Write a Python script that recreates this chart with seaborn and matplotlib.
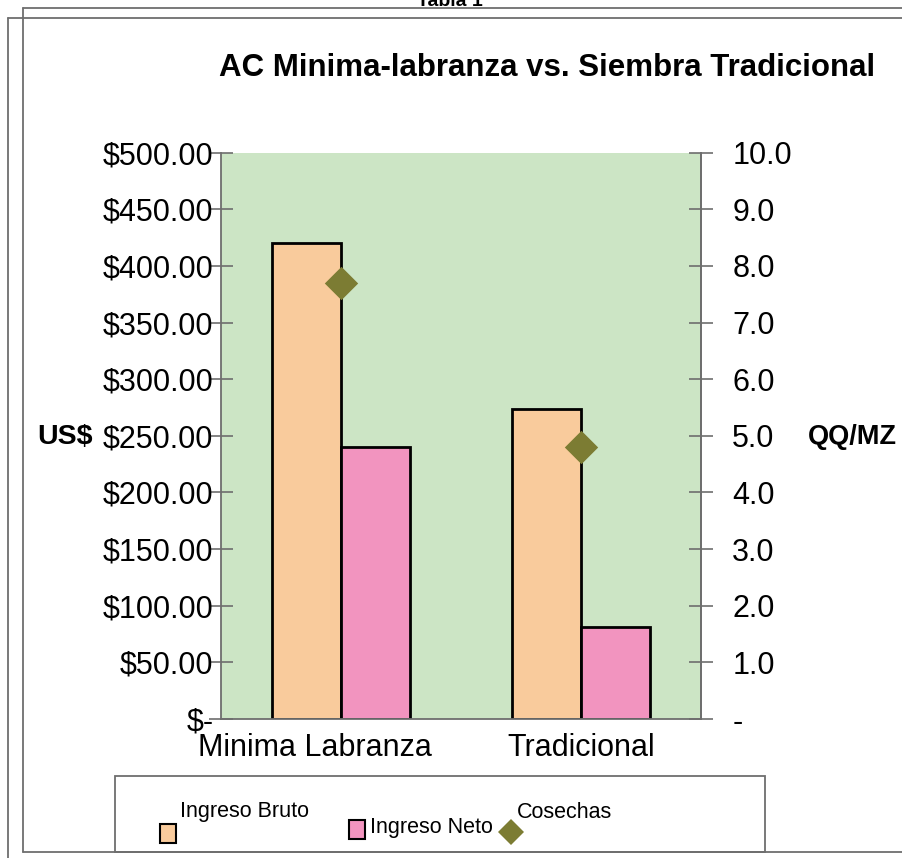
import matplotlib
matplotlib.use("Agg")
import matplotlib.pyplot as plt
import seaborn as sns
import pandas as pd
from matplotlib.patches import Rectangle
from matplotlib.lines import Line2D
from matplotlib.ticker import FixedLocator, FuncFormatter

# ---- data ----
categories = ["Minima Labranza", "Tradicional"]
ingreso_bruto = [420, 274]
ingreso_neto = [240, 81]
cosechas = [7.7, 4.8]
series_names = ["Ingreso Bruto", "Ingreso Neto", "Cosechas"]
left_ticks = [0, 50, 100, 150, 200, 250, 300, 350, 400, 450, 500]
right_ticks = [0, 1, 2, 3, 4, 5, 6, 7, 8, 9, 10]

# ---- style ----
sns.set_theme(style="white")
plt.rcParams["font.family"] = ["Liberation Sans", "DejaVu Sans"]
plt.rcParams["text.color"] = "black"
plt.rcParams["axes.labelcolor"] = "black"
plt.rcParams["xtick.color"] = "black"
plt.rcParams["ytick.color"] = "black"

c_bruto = "#F9CB9C"
c_neto = "#F294BF"
c_diam = "#7C7C33"
c_bg = "#CCE5C5"
c_spine = "#6E6E6E"

W, H = 902, 858
fig = plt.figure(figsize=(W / 100, H / 100), dpi=100)

def fx(px):
    return px / W

def fy(py):
    return 1 - py / H

L, R, T, B = 221, 701, 152.7, 719
ax = fig.add_axes([fx(L), fy(B), fx(R) - fx(L), fy(T) - fy(B)])
ax.set_facecolor(c_bg)

df = pd.DataFrame({
    "cat": categories * 2,
    "serie": [series_names[0]] * 2 + [series_names[1]] * 2,
    "val": ingreso_bruto + ingreso_neto,
})
sns.barplot(data=df, x="cat", y="val", hue="serie", order=categories,
            hue_order=series_names[:2], palette=[c_bruto, c_neto],
            width=0.575, edgecolor="black", linewidth=2.0, saturation=1,
            legend=False, ax=ax)

ax.set_xlim(-0.5, 1.5)
ax.set_ylim(0, 500)
ax.yaxis.set_major_locator(FixedLocator(left_ticks))
ax.yaxis.set_major_formatter(FuncFormatter(
    lambda v, p: "$-" if v == 0 else f"${v:,.2f}"))
ax.set_xlabel("")
ax.set_ylabel("")
# category labels (first one sits slightly left of its group, as in the original)
ax.set_xticks([-0.108, 1.0], labels=categories)
ax.tick_params(axis="x", which="major", length=0, labelsize=22, pad=10, labelcolor="black")
ax.set_xticks([-0.5, 0.5, 1.5], minor=True)
ax.tick_params(axis="x", which="minor", direction="inout", length=17, width=1.2, color=c_spine)
ax.tick_params(axis="y", direction="inout", length=17, width=1.2, color=c_spine,
               labelsize=22, pad=-3, labelcolor="black")

ax.spines["top"].set_visible(False)
for s in ["left", "right", "bottom"]:
    ax.spines[s].set_color(c_spine)
    ax.spines[s].set_linewidth(1.3)

ax2 = ax.twinx()
sns.scatterplot(x=[0, 1], y=cosechas, marker="D", s=17 ** 2,
                color=c_diam, edgecolor=c_diam, linewidth=0, ax=ax2, zorder=5)
ax2.set_ylim(0, 10)
ax2.set_xlim(-0.5, 1.5)
ax2.yaxis.set_major_locator(FixedLocator(right_ticks))
ax2.yaxis.set_major_formatter(FuncFormatter(
    lambda v, p: "-" if v == 0 else f"{v:.1f}"))
ax2.tick_params(axis="y", direction="inout", length=17, width=1.2, color=c_spine,
                labelsize=22, pad=14, labelcolor="black")
ax2.set_ylabel("")
for s in ["top", "left", "bottom"]:
    ax2.spines[s].set_visible(False)
ax2.spines["right"].set_color(c_spine)
ax2.spines["right"].set_linewidth(1.3)

# axis titles
fig.text(fx(37), fy(437), "US$", fontsize=20.5, fontweight="bold", ha="left", va="center")
fig.text(fx(808), fy(437), "QQ/MZ", fontsize=19.5, fontweight="bold", ha="left", va="center")

# title
fig.text(fx(547), fy(68), "AC Minima-labranza vs. Siembra Tradicional",
         fontsize=22.5, fontweight="bold", ha="center", va="center")
fig.text(fx(450), fy(1), "Tabla 1", fontsize=14, fontweight="bold", ha="center", va="center")

# frames
frame_col = "#6E6E6E"
fig.add_artist(Line2D([fx(23), 1], [fy(8), fy(8)], color=frame_col, lw=1.3, transform=fig.transFigure))
fig.add_artist(Line2D([fx(23), fx(23)], [fy(8), fy(852)], color=frame_col, lw=1.3, transform=fig.transFigure))
fig.add_artist(Line2D([fx(23), 1], [fy(852), fy(852)], color=frame_col, lw=1.3, transform=fig.transFigure))
fig.add_artist(Line2D([fx(8), 1], [fy(18), fy(18)], color=frame_col, lw=1.3, transform=fig.transFigure))
fig.add_artist(Line2D([fx(8), fx(8)], [fy(18), 0], color=frame_col, lw=1.3, transform=fig.transFigure))

# legend box (manual, mimicking the original layout)
fig.add_artist(Rectangle((fx(115), fy(852)), fx(765) - fx(115), fy(776) - fy(852),
                         transform=fig.transFigure, fill=False, edgecolor=frame_col, lw=1.3))
fig.add_artist(Rectangle((fx(160), fy(843)), fx(16), fy(824) - fy(843),
                         transform=fig.transFigure, facecolor=c_bruto, edgecolor="black", lw=1.5))
fig.text(fx(180), fy(812), series_names[0], fontsize=15.5, ha="left", va="center")
fig.add_artist(Rectangle((fx(349), fy(839)), fx(16), fy(820) - fy(839),
                         transform=fig.transFigure, facecolor=c_neto, edgecolor="black", lw=1.5))
fig.text(fx(370), fy(827), series_names[1], fontsize=15.5, ha="left", va="center")
fig.add_artist(Line2D([fx(511)], [fy(832)], marker="D", markersize=13, color=c_diam,
                      markeredgewidth=0, transform=fig.transFigure))
fig.text(fx(517), fy(812), series_names[2], fontsize=15.5, ha="left", va="center")

fig.savefig("out.png", dpi=100)
